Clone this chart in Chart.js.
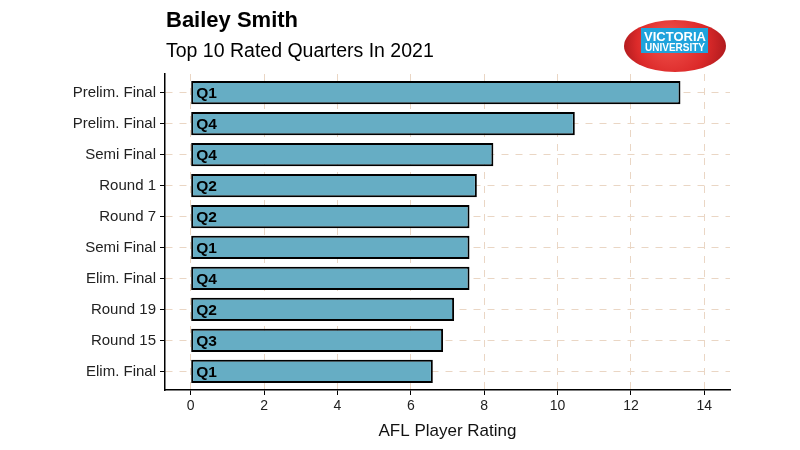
<!DOCTYPE html>
<html>
<head>
<meta charset="utf-8">
<script src="https://cdn.jsdelivr.net/npm/chart.js@4"></script>
<style>
  html, body { margin: 0; padding: 0; background: #fff; }
  #wrap { width: 800px; height: 450px; }
</style>
</head>
<body>
<div id="wrap"><canvas id="myChart" width="800" height="450"></canvas></div>
<script>
// data, top row first
const rounds = ['Prelim. Final', 'Prelim. Final', 'Semi Final', 'Round 1', 'Round 7', 'Semi Final', 'Elim. Final', 'Round 19', 'Round 15', 'Elim. Final'];
const quarters = ['Q1', 'Q4', 'Q4', 'Q2', 'Q2', 'Q1', 'Q4', 'Q2', 'Q3', 'Q1'];
const ratings = [13.35, 10.47, 8.25, 7.8, 7.6, 7.6, 7.6, 7.18, 6.88, 6.6];
const xTicks = [0, 2, 4, 6, 8, 10, 12, 14];

const FONT = "'Liberation Sans', Arial, sans-serif";
const GRID = '#ead6c4';

let points = ratings.map((v, i) => ({ x: v, y: i }));

// title, subtitle, quarter labels and the logo
const extras = {
    id: 'extras',
    afterDatasetsDraw(chart) {
        const ctx = chart.ctx;
        ctx.save();
        ctx.fillStyle = '#000';
        ctx.textBaseline = 'alphabetic';
        ctx.textAlign = 'left';
        ctx.font = 'bold 22px ' + FONT;
        ctx.fillText('Bailey Smith', 166, 27);
        ctx.font = '19.5px ' + FONT;
        ctx.fillText('Top 10 Rated Quarters In 2021', 166, 57);

        // Q labels inside bars
        ctx.font = 'bold 15.5px ' + FONT;
        ctx.textBaseline = 'middle';
        chart.getDatasetMeta(0).data.forEach((bar, i) => {
            ctx.fillText(quarters[i], bar.base + 5, bar.y + 1);
        });

        // football logo
        const cx = 675, cy = 46;
        const g = ctx.createRadialGradient(cx - 8, cy - 8, 5, cx, cy, 55);
        g.addColorStop(0, '#f0504a');
        g.addColorStop(0.6, '#dc2a2a');
        g.addColorStop(1, '#a8181c');
        ctx.fillStyle = g;
        ctx.beginPath();
        ctx.ellipse(cx, cy, 51, 26, 0, 0, Math.PI * 2);
        ctx.fill();
        ctx.fillStyle = '#1fa3dc';
        ctx.fillRect(641, 28, 67, 25);
        ctx.fillStyle = '#fff';
        ctx.textAlign = 'center';
        ctx.textBaseline = 'alphabetic';
        ctx.font = 'bold 13px ' + FONT;
        ctx.fillText('VICTORIA', 675, 41, 62);
        ctx.font = 'bold 10px ' + FONT;
        ctx.fillText('UNIVERSITY', 675, 51, 62);
        ctx.restore();
    }
};

new Chart(document.getElementById('myChart'), {
    type: 'bar',
    data: {
        datasets: [{
            data: points,
            backgroundColor: '#66adc4',
            borderColor: '#000',
            borderWidth: 2,
            borderSkipped: false,
            categoryPercentage: 1,
            barPercentage: 0.75
        }]
    },
    options: {
        indexAxis: 'y',
        responsive: false,
        animation: false,
        layout: { padding: { top: 74, right: 70, bottom: 0, left: 0 } },
        plugins: { legend: { display: false }, tooltip: { enabled: false } },
        scales: {
            x: {
                type: 'linear',
                min: -0.7,
                max: 14.7,
                afterFit(scale) { scale.height = 60; },
                afterBuildTicks(scale) { scale.ticks = xTicks.map(v => ({ value: v })); },
                ticks: { color: '#222', font: { family: FONT, size: 14 }, padding: 3 },
                grid: { color: GRID, lineWidth: 1, tickColor: '#000', tickLength: 5 },
                border: { display: true, color: '#000', width: 1.5, dash: [7, 7] },
                title: {
                    display: true,
                    text: 'AFL Player Rating',
                    color: '#111',
                    font: { family: FONT, size: 17 },
                    padding: { top: 0, bottom: 8 }
                }
            },
            y: {
                type: 'linear',
                reverse: true,
                offset: false,
                min: -0.6,
                max: 9.6,
                afterFit(scale) { scale.width = 165; },
                afterBuildTicks(scale) { scale.ticks = rounds.map((r, i) => ({ value: i })); },
                ticks: {
                    color: '#222',
                    font: { family: FONT, size: 15 },
                    padding: 4,
                    callback: (v) => rounds[v]
                },
                grid: { offset: false, color: GRID, lineWidth: 1, tickColor: '#000', tickLength: 5 },
                border: { display: true, color: '#000', width: 1.5, dash: [7, 7] }
            }
        }
    },
    plugins: [extras]
});
</script>
</body>
</html>
